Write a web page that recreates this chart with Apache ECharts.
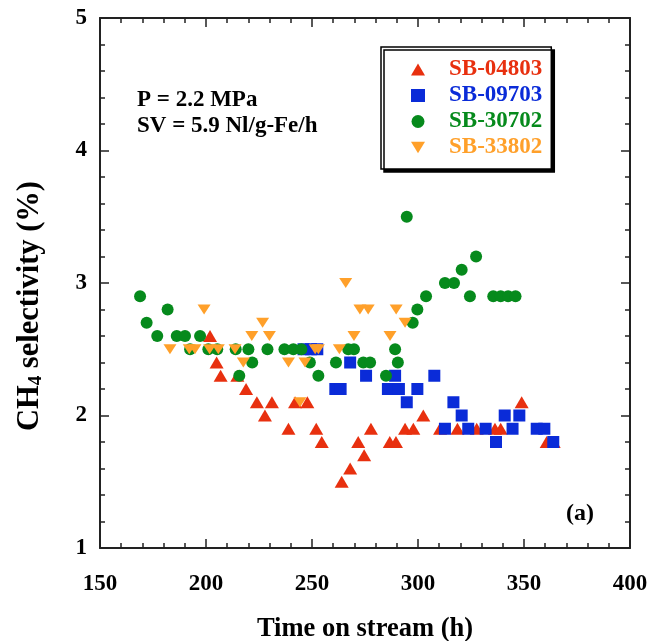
<!DOCTYPE html>
<html>
<head>
<meta charset="utf-8">
<script src="https://cdn.jsdelivr.net/npm/echarts@6/dist/echarts.min.js"></script>
<style>
  html, body { margin: 0; padding: 0; background: #fff; }
  #chart { width: 651px; height: 641px; }
</style>
</head>
<body>
<div id="chart"></div>
<script>
// CH4 selectivity (%) versus time on stream (h) for four catalyst runs
const seriesNames = ['SB-04803', 'SB-09703', 'SB-30702', 'SB-33802'];
const seriesColors = ['#e8300f', '#0a2bd8', '#068a1c', '#ffa02a'];

const sb04803 = [
  [201.9, 2.6], [205, 2.4], [206.9, 2.3], [214.8, 2.3], [218.9, 2.2], [224, 2.1],
  [227.8, 2.0], [231.1, 2.1], [238.9, 1.9], [242, 2.1], [247.8, 2.1], [252, 1.9],
  [254.6, 1.8], [264, 1.5], [268, 1.6], [271.8, 1.8], [274.6, 1.7], [277.8, 1.9],
  [286.7, 1.8], [289.6, 1.8], [293.9, 1.9], [297.8, 1.9], [302.5, 2.0], [310.4, 1.9],
  [318.6, 1.9], [327.7, 1.9], [336.3, 1.9], [339, 1.9], [348.9, 2.1], [360.7, 1.8],
  [364, 1.8]
];
const sb09703 = [
  [246, 2.5], [249.5, 2.5], [252.5, 2.5], [261, 2.2], [263.5, 2.2], [268, 2.4],
  [275.5, 2.3], [285.8, 2.2], [289.2, 2.3], [291, 2.2], [294.7, 2.1], [299.7, 2.2],
  [307.7, 2.3], [312.7, 1.9], [316.7, 2.1], [320.6, 2.0], [323.7, 1.9], [331.9, 1.9],
  [336.8, 1.8], [340.9, 2.0], [344.6, 1.9], [347.8, 2.0], [356, 1.9], [359.6, 1.9],
  [363.8, 1.8]
];
const sb30702 = [
  [168.9, 2.9], [172, 2.7], [177, 2.6], [181.9, 2.8], [186.2, 2.6], [190.1, 2.6],
  [192.5, 2.5], [197.2, 2.6], [201.1, 2.5], [205.3, 2.5], [214, 2.5], [215.7, 2.3],
  [220, 2.5], [221.8, 2.4], [229, 2.5], [237, 2.5], [241.2, 2.5], [245, 2.5],
  [249, 2.4], [253, 2.3], [261.3, 2.4], [267.1, 2.5], [269.8, 2.5], [274.2, 2.4],
  [277.4, 2.4], [284.9, 2.3], [289.2, 2.5], [290.5, 2.4], [294.7, 3.5], [297.5, 2.7],
  [299.7, 2.8], [303.8, 2.9], [312.7, 3.0], [317, 3.0], [320.6, 3.1], [324.5, 2.9],
  [327.4, 3.2], [335.5, 2.9], [339, 2.9], [342.5, 2.9], [346, 2.9]
];
const sb33802 = [
  [183, 2.5], [192.1, 2.5], [194.8, 2.5], [199.1, 2.8], [201.7, 2.5], [205.8, 2.5],
  [213.7, 2.5], [217.6, 2.4], [221.6, 2.6], [226.7, 2.7], [229.9, 2.6], [238.9, 2.4],
  [244.3, 2.1], [246.7, 2.4], [251.5, 2.5], [253, 2.5], [262.9, 2.5], [265.9, 3.0],
  [269.8, 2.6], [272.6, 2.8], [276.5, 2.8], [286.8, 2.6], [289.7, 2.8], [293.9, 2.7]
];

const xTicks = [150, 200, 250, 300, 350, 400];
const yTicks = [1, 2, 3, 4, 5];

const FONT = '"Liberation Serif", "Times New Roman", serif';
const AXIS_COLOR = '#222';

// marker shapes shared by the series and the legend
const TRI_UP = 'path://M7,0L14,12L0,12Z';
const TRI_DOWN = 'path://M0,0L12,0L6,10Z';

const chart = echarts.init(document.getElementById('chart'), null, { renderer: 'canvas' });

function axisBase(showLabel) {
  return {
    axisLine: { show: true, onZero: false, lineStyle: { color: AXIS_COLOR, width: 2 } },
    axisTick: { show: true, inside: true, length: 9, lineStyle: { color: AXIS_COLOR, width: 1.5 } },
    minorTick: { show: true, splitNumber: 5, length: 5, lineStyle: { color: AXIS_COLOR, width: 1.5 } },
    splitLine: { show: false },
    axisLabel: {
      show: showLabel,
      fontFamily: FONT, fontWeight: 'bold', fontSize: 23, color: '#000'
    }
  };
}

const xMin = xTicks[0], xMax = xTicks[xTicks.length - 1];
const yMin = yTicks[0], yMax = yTicks[yTicks.length - 1];

const option = {
  backgroundColor: '#fff',
  animation: false,
  grid: { left: 100, right: 21, top: 18, bottom: 93, containLabel: false, outerBoundsMode: 'none' },
  xAxis: [
    Object.assign(axisBase(true), {
      type: 'value', position: 'bottom', min: xMin, max: xMax, interval: 50,
      name: 'Time on stream (h)', nameLocation: 'middle', nameGap: 68,
      nameTextStyle: { fontFamily: FONT, fontWeight: 'bold', fontSize: 26.5, color: '#000' },
      axisLabel: { show: true, margin: 25, fontFamily: FONT, fontWeight: 'bold', fontSize: 23, color: '#000' }
    }),
    Object.assign(axisBase(false), { type: 'value', position: 'top', min: xMin, max: xMax, interval: 50 })
  ],
  yAxis: [
    Object.assign(axisBase(true), {
      type: 'value', position: 'left', min: yMin, max: yMax, interval: 1,
      name: '{a|CH}{b|4}{c| selectivity (%)}', nameLocation: 'middle', nameGap: 54,
      nameTextStyle: {
        rich: {
          a: { fontFamily: FONT, fontWeight: 'bold', fontSize: 30.5, color: '#000', lineHeight: 35, verticalAlign: 'bottom' },
          b: { fontFamily: FONT, fontWeight: 'bold', fontSize: 19, color: '#000', lineHeight: 19, verticalAlign: 'bottom' },
          c: { fontFamily: FONT, fontWeight: 'bold', fontSize: 30.5, color: '#000', lineHeight: 35, verticalAlign: 'bottom',
               padding: [0, 46, 0, 0] }
        }
      },
      axisLabel: { show: true, margin: 13, fontFamily: FONT, fontWeight: 'bold', fontSize: 23, color: '#000' }
    }),
    Object.assign(axisBase(false), { type: 'value', position: 'right', min: yMin, max: yMax, interval: 1 })
  ],
  legend: {
    orient: 'vertical',
    left: 381, top: 47,
    padding: [10, 9, 9, 30],
    itemWidth: 14, itemHeight: 13, itemGap: 1,
    backgroundColor: '#fff',
    borderColor: '#000', borderWidth: 1.5,
    shadowColor: '#000', shadowBlur: 0, shadowOffsetX: 3, shadowOffsetY: 3,
    textStyle: { fontFamily: FONT, fontWeight: 'bold', fontSize: 23, lineHeight: 25, padding: [0, 0, 0, 19] },
    data: seriesNames.map((n, i) => ({ name: n, textStyle: { color: seriesColors[i] } }))
  },
  graphic: [
    { type: 'text', left: 137, top: 89, style: { text: 'P = 2.2 MPa', font: 'bold 23px ' + FONT, fill: '#000' } },
    { type: 'text', left: 137, top: 115, style: { text: 'SV = 5.9 Nl/g-Fe/h', font: 'bold 23px ' + FONT, fill: '#000' } },
    { type: 'text', left: 566, top: 502, style: { text: '(a)', font: 'bold 24px ' + FONT, fill: '#000' } }
  ],
  series: [
    { name: seriesNames[0], type: 'scatter', data: sb04803, symbol: TRI_UP, symbolSize: [14, 12],
      itemStyle: { color: seriesColors[0], opacity: 1 }, z: 2 },
    { name: seriesNames[1], type: 'scatter', data: sb09703, symbol: 'rect', symbolSize: 12,
      itemStyle: { color: seriesColors[1], opacity: 1 }, z: 3 },
    { name: seriesNames[2], type: 'scatter', data: sb30702, symbol: 'circle', symbolSize: 12,
      itemStyle: { color: seriesColors[2], opacity: 1 }, z: 4 },
    { name: seriesNames[3], type: 'scatter', data: sb33802, symbol: TRI_DOWN, symbolSize: [13, 10],
      itemStyle: { color: seriesColors[3], opacity: 1 }, z: 5 }
  ]
};

chart.setOption(option);
</script>
</body>
</html>
